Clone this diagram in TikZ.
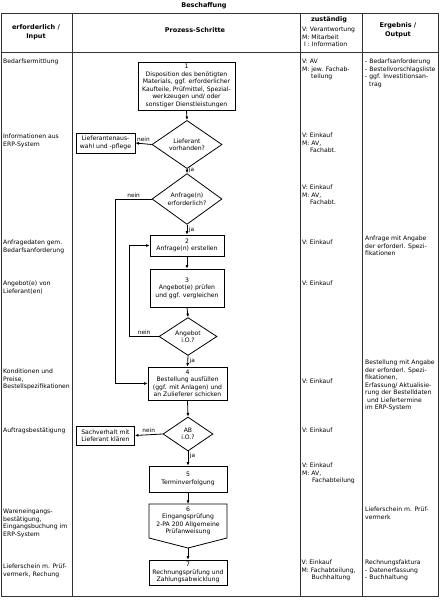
\documentclass[tikz,border=0pt]{standalone}
\usepackage{fontspec}
\setmainfont{DejaVu Sans}
\usetikzlibrary{shapes.geometric,arrows.meta}
\begin{document}
\begin{tikzpicture}[x=1pt,y=-1pt,
  every node/.style={font=\fontsize{6.1}{7.5}\selectfont, inner sep=0pt},
  tline/.style={line width=1pt, draw=black!80},
  pbox/.style={draw, line width=0.8pt, align=center, inner sep=1pt, rectangle},
  dia/.style={draw, diamond, line width=0.8pt, align=center, inner sep=0pt},
  arr/.style={-{Latex[length=3.5pt,width=3pt]}, line width=0.8pt},
  lbl/.style={font=\fontsize{5.8}{7}\selectfont, inner sep=1.5pt},
  ctext/.style={anchor=north west, align=left},
  hd/.style={font=\bfseries\fontsize{6.5}{9}\selectfont, align=center}
]
\useasboundingbox (0,0) rectangle (440,600);
% table
\draw[tline] (1,13) rectangle (438,596);
\draw[tline] (1,52) -- (438,52);
\draw[tline] (72,13) -- (72,596);
\draw[tline] (300,13) -- (300,596);
\draw[tline] (362,13) -- (362,596);
% headers
\node[hd] (title) at (204,6) {Beschaffung};
\node[hd] (h1) at (36,32.5) {erforderlich /\\Input};
\node[hd] (h2) at (195,30) {Prozess-Schritte};
\node[hd] (h3) at (329,19.5) {zuständig};
\node[ctext] (h3b) at (302,27) {V: Verantwortung\\M: Mitarbeit\\\hspace*{2pt}I : Information};
\node[hd] (h4) at (398,30.5) {Ergebnis /\\Output};
% process
\node[pbox, minimum width=97pt, minimum height=48pt] (b1) at (186.5,86) {1\\Disposition des benötigten\\Materials, ggf. erforderlicher\\Kaufteile, Prüfmittel, Spezial-\\werkzeugen und/ oder\\sonstiger Dienstleistungen};
\node[dia, minimum width=70pt, minimum height=39pt] (d1) at (187,144.5) {Lieferant\\vorhanden?};
\node[pbox, minimum width=59pt, minimum height=20pt] (lw) at (105.5,143) {Lieferantenaus-\\wahl und -pflege};
\node[dia, minimum width=70pt, minimum height=42pt] (d2) at (187,199) {Anfrage(n)\\erforderlich?};
\node[pbox, minimum width=74pt, minimum height=21pt] (b2) at (187,245.5) {2\\Anfrage(n) erstellen};
\node[pbox, minimum width=74pt, minimum height=38pt] (b3) at (187,288) {3\\Angebot(e) prüfen\\und ggf. vergleichen};
\node[dia, minimum width=58pt, minimum height=37pt] (d3) at (188,336.5) {Angebot\\i.O.?};
\node[pbox, minimum width=79pt, minimum height=33pt] (b4) at (187.5,383.5) {4\\Bestellung ausfüllen\\(ggf. mit Anlagen) und\\an Zulieferer schicken};
\node[dia, minimum width=50pt, minimum height=34pt] (d4) at (188,434) {AB\\i.O.?};
\node[pbox, minimum width=58pt, minimum height=19pt] (sk) at (105.5,435.5) {Sachverhalt mit\\Lieferant klären};
\node[pbox, minimum width=78pt, minimum height=26pt] (b5) at (188,479) {5\\Terminverfolgung};
\node[align=center, minimum width=78pt, minimum height=34pt] (b6) at (188,521) {6\\Eingangsprüfung\\2-PA 200 Allgemeine\\Prüfanweisung};
\draw[line width=0.8pt] (149,504) -- (227,504) -- (227,538) -- (188,548) -- (149,538) -- cycle;
\coordinate (b6tip) at (188,548);
\node[pbox, minimum width=78pt, minimum height=25pt] (b7) at (188,572.5) {7\\Rechnungsprüfung und\\Zahlungsabwicklung};
% connectors
\draw[arr] (b1.south) -- (d1.north);
\draw[arr] (d1.west) -- node[lbl, above] {nein} (lw.east);
\draw[arr] (d1.south) -- node[lbl, right, pos=0.3] {ja} (d2.north);
\draw[arr] (d2.west) -- node[lbl, above] {nein} ++(-36,0) |- (b4.west);
\draw[arr] (d2.south) -- node[lbl, right] {ja} (b2.north);
\draw[arr] (b2.south) -- (b3.north);
\draw[arr] (b3.south) -- (d3.north);
\draw[arr] (d3.west) -- node[lbl, above] {nein} ++(-29,0) |- (b2.west);
\draw[arr] (d3.south) -- node[lbl, right] {ja} (b4.north);
\draw[arr] (b4.south) -- (d4.north);
\draw[arr] (d4.west) -- node[lbl, above] {nein} (sk.east);
\draw[arr] (d4.south) -- node[lbl, right, pos=0.35] {ja} (b5.north);
\draw[arr] (b5.south) -- (b6.north);
\draw[arr] (b6tip) -- (b7.north);
% input column
\node[ctext] (i1) at (3,59) {Bedarfsermittlung};
\node[ctext] (i2) at (3,134) {Informationen aus\\ERP-System};
\node[ctext] (i3) at (3,240) {Anfragedaten gem.\\Bedarfsanforderung};
\node[ctext] (i4) at (3,281) {Angebot(e) von\\Lieferant(en)};
\node[ctext] (i5) at (3,369) {Konditionen und\\Preise,\\Bestellspezifikationen};
\node[ctext] (i6) at (3,428) {Auftragsbestätigung};
\node[ctext] (i7) at (3,509) {Wareneingangs-\\bestätigung,\\Eingangsbuchung im\\ERP-System};
\node[ctext] (i8) at (3,564) {Lieferschein m. Prüf-\\vermerk, Rechung};
% responsible column
\node[ctext] (r1) at (302,59) {V: AV\\M: jew. Fachab-\\\hspace*{9pt}teilung};
\node[ctext] (r2) at (302,133) {V: Einkauf\\M: AV,\\\hspace*{8pt}Fachabt.};
\node[ctext] (r3) at (302,185) {V: Einkauf\\M: AV,\\\hspace*{8pt}Fachabt.};
\node[ctext] (r4) at (302,240) {V: Einkauf};
\node[ctext] (r5) at (302,281) {V: Einkauf};
\node[ctext] (r6) at (302,379) {V: Einkauf};
\node[ctext] (r7) at (302,428) {V: Einkauf};
\node[ctext] (r8) at (302,463) {V: Einkauf\\M: AV,\\\hspace*{10pt}Fachabteilung};
\node[ctext] (r9) at (301.5,560) {V: Einkauf\\M: Fachabteilung,\\\hspace*{10pt}Buchhaltung};
% output column
\node[ctext] (o1) at (365,59) {- Bedarfsanforderung\\- Bestellvorschlagsliste\\- ggf. Investitionsan-\\\hspace*{4pt}trag};
\node[ctext] (o2) at (365,236) {Anfrage mit Angabe\\der erforderl. Spezi-\\fikationen};
\node[ctext] (o3) at (365,360) {Bestellung mit Angabe\\der erforderl. Spezi-\\fikationen,\\Erfassung/ Aktualisie-\\rung der Bestelldaten\\\hspace*{2pt}und Liefertermine\\im ERP-System};
\node[ctext] (o4) at (365,507) {Lieferschein m. Prüf-\\vermerk};
\node[ctext] (o5) at (365,560) {Rechnungsfaktura\\- Datenerfassung\\- Buchhaltung};
\end{tikzpicture}
\end{document}
